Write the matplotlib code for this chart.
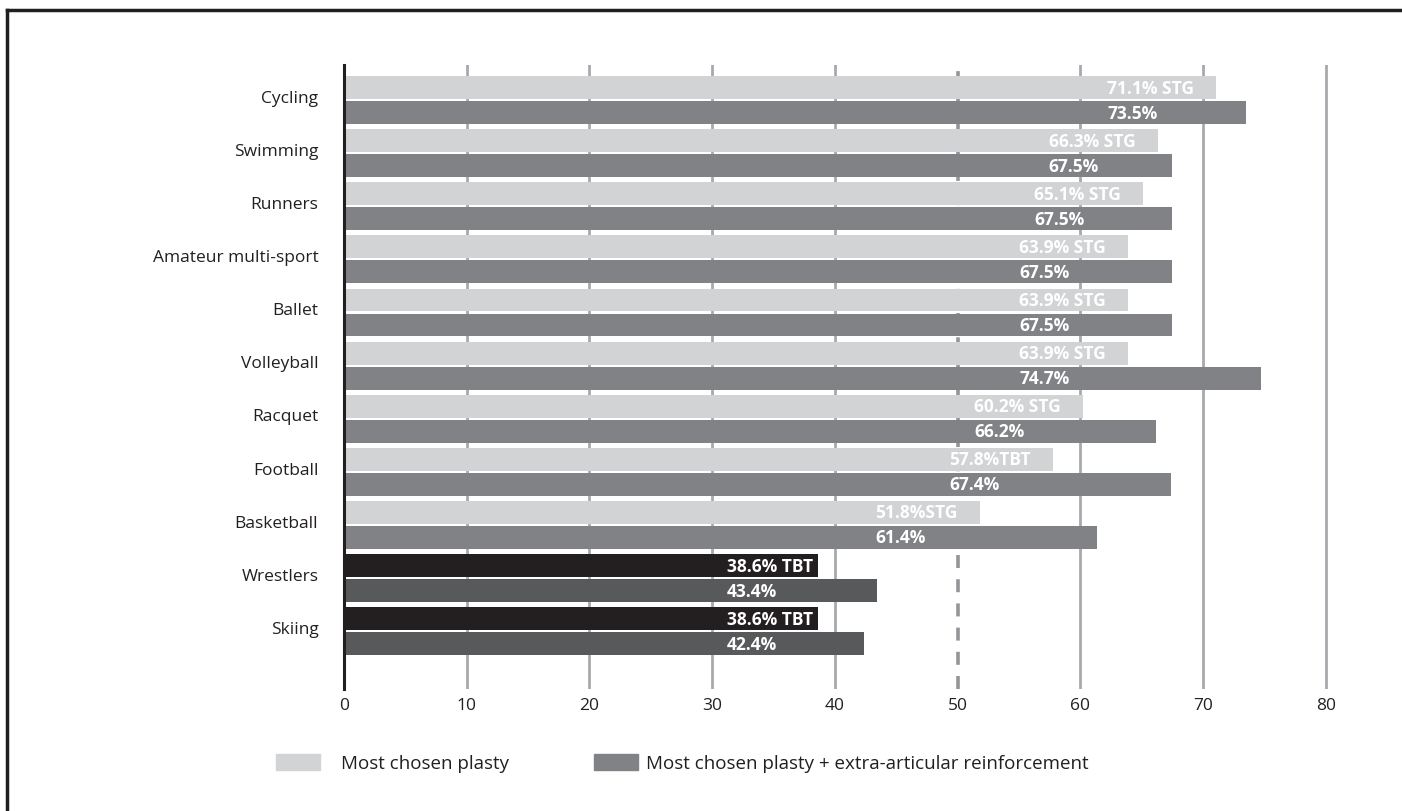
import matplotlib
matplotlib.use("Agg")
import matplotlib.pyplot as plt
from matplotlib.lines import Line2D
from matplotlib.patches import Patch

# ── Daten ─────────────────────────────────────────────────────────────────────
categories = [
    "Cycling", "Swimming", "Runners", "Amateur multi-sport", "Ballet",
    "Volleyball", "Racquet", "Football", "Basketball", "Wrestlers", "Skiing",
]
plasty = [71.1, 66.3, 65.1, 63.9, 63.9, 63.9, 60.2, 57.8, 51.8, 38.6, 38.6]
plasty_labels = [
    "71.1% STG", "66.3% STG", "65.1% STG", "63.9% STG", "63.9% STG",
    "63.9% STG", "60.2% STG", "57.8%TBT", "51.8%STG", "38.6% TBT", "38.6% TBT",
]
reinforced = [73.5, 67.5, 67.5, 67.5, 67.5, 74.7, 66.2, 67.4, 61.4, 43.4, 42.4]
x_ticks = [0, 10, 20, 30, 40, 50, 60, 70, 80]
legend_labels = ["Most chosen plasty",
                 "Most chosen plasty + extra-articular reinforcement"]

# ── Stil ──────────────────────────────────────────────────────────────────────
plt.rcParams["font.family"] = ["Open Sans", "DejaVu Sans"]
TXT = "#231f20"
LIGHT, DARK = "#d1d3d4", "#808285"
LIGHT_HL, DARK_HL = "#231f20", "#58595b"
highlight = {"Wrestlers", "Skiing"}

fig = plt.figure(figsize=(14.02, 8.12), dpi=100)
ax = fig.add_axes([0.2454, 0.1502, 0.7133, 0.7685])

ys = list(range(len(categories)))
h = 0.43
off = 0.235
c_light = [LIGHT_HL if c in highlight else LIGHT for c in categories]
c_dark = [DARK_HL if c in highlight else DARK for c in categories]

ax.barh([y - off for y in ys], plasty, height=h, color=c_light, zorder=3)
ax.barh([y + off for y in ys], reinforced, height=h, color=c_dark, zorder=3)

# Gitterlinien (hinter den Balken)
for t in x_ticks[1:]:
    if t == 50:
        ax.axvline(t, color="#939598", lw=2.6, dashes=(3.6, 3.1), zorder=2)
    else:
        ax.axvline(t, color="#a7a9ac", lw=2.0, zorder=1)

# Beschriftungen in den Balken
for y, v, lab in zip(ys, plasty, plasty_labels):
    gap = 0.4 if categories[y] in highlight else 1.8
    t1 = ax.text(v - gap, y - off, lab, ha="right", va="center",
                 color="white", fontsize=12.5, fontweight="bold", zorder=5)
    ax.annotate(f"{reinforced[y]:.1f}%", xy=(0, y + off),
                xycoords=(t1, "data"), ha="left", va="center",
                color="white", fontsize=12.5, fontweight="bold", zorder=5)

ax.set_xlim(0, 81.5)
ax.set_ylim(11.09, -0.66)
ax.set_yticks([y - 0.08 for y in ys])
ax.set_yticklabels(categories, fontsize=12.5, color=TXT)
ax.set_xticks(x_ticks)
ax.set_xticklabels([str(t) for t in x_ticks], fontsize=12.5, color=TXT)
ax.tick_params(length=0, pad=6)
ax.tick_params(axis="y", pad=18.5)
for s in ["top", "right", "bottom"]:
    ax.spines[s].set_visible(False)
ax.spines["left"].set_color(TXT)
ax.spines["left"].set_linewidth(2.2)
ax.spines["left"].set_zorder(6)

# Legende: zwei Eintraege mit eigenem Abstand
for col, lab, x0, pad in [(LIGHT, legend_labels[0], 0.1969, 1.1),
                          (DARK, legend_labels[1], 0.4237, 0.4)]:
    leg = fig.legend([Patch(color=col)], [lab], loc="center left",
                     bbox_to_anchor=(x0, 0.0591), frameon=False,
                     fontsize=13.5, handlelength=2.35, handleheight=1.0,
                     handletextpad=pad, borderpad=0, borderaxespad=0,
                     labelcolor=TXT)

# Rahmen oben/links
fig.add_artist(Line2D([0.005, 1.0], [0.9865, 0.9865], color=TXT, lw=2.5,
                      transform=fig.transFigure))
fig.add_artist(Line2D([0.005, 0.005], [0.0, 0.9865], color=TXT, lw=2.5,
                      transform=fig.transFigure))

fig.savefig("out.png", dpi=100)
